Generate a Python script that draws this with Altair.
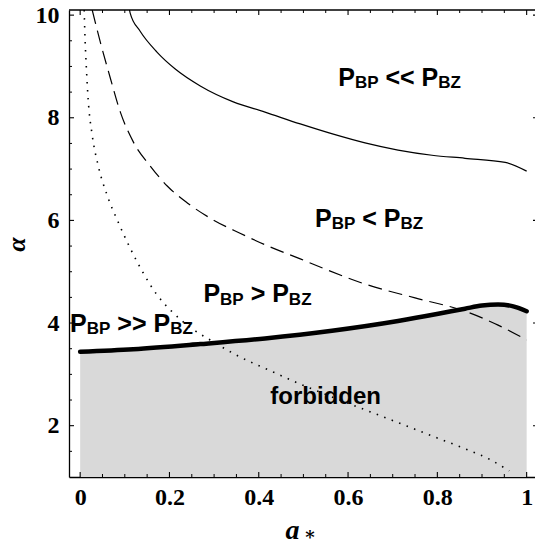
import altair as alt
import pandas as pd

# ---------------- data ----------------
solid_x = [0.1105, 0.112, 0.134, 0.172, 0.213, 0.269, 0.343, 0.414, 0.493, 0.567,
           0.638, 0.712, 0.788, 0.862, 0.952, 1.0]
solid_y = [10.10, 10.04, 9.69, 9.28, 8.95, 8.62, 8.31, 8.11, 7.88, 7.68,
           7.51, 7.37, 7.27, 7.21, 7.13, 6.96]

dashed_x = [0.027, 0.045, 0.067, 0.090, 0.119, 0.157, 0.195, 0.240, 0.298, 0.358,
            0.421, 0.493, 0.549, 0.638, 0.750, 0.862, 0.936, 1.0]
dashed_y = [10.10, 9.48, 8.79, 8.11, 7.53, 7.06, 6.67, 6.34, 6.01, 5.75,
            5.50, 5.25, 5.05, 4.76, 4.49, 4.23, 3.96, 3.67]

dotted_x = [0.009, 0.011, 0.013, 0.018, 0.027, 0.040, 0.060, 0.085, 0.112, 0.141,
            0.172, 0.206, 0.246, 0.291, 0.358, 0.426, 0.493, 0.564, 0.638, 0.712,
            0.788, 0.862, 0.918, 0.961]
dotted_y = [10.10, 9.52, 9.13, 8.35, 7.66, 7.08, 6.50, 5.97, 5.46, 4.98,
            4.55, 4.22, 3.92, 3.67, 3.34, 3.07, 2.81, 2.56, 2.31, 2.06,
            1.80, 1.55, 1.34, 1.12]

bound_x = [0.0, 0.119, 0.269, 0.414, 0.564, 0.712, 0.802, 0.862, 0.900, 0.936, 0.968, 1.0]
bound_y = [3.44, 3.49, 3.59, 3.70, 3.85, 4.04, 4.18, 4.28, 4.34, 4.36, 4.33, 4.23]

x_major = [0, 0.2, 0.4, 0.6, 0.8, 1.0]
x_minor = [0.05, 0.1, 0.15, 0.25, 0.3, 0.35, 0.45, 0.5, 0.55, 0.65, 0.7, 0.75,
           0.85, 0.9, 0.95]
y_major = [2, 4, 6, 8, 10]
y_minor = [1.5, 2.5, 3, 3.5, 4.5, 5, 5.5, 6.5, 7, 7.5, 8.5, 9, 9.5]

rel_ops = ["<<", "<", ">", ">>"]
rel_x = [0.578, 0.526, 0.276, -0.0226]
rel_y = [8.62, 5.88, 4.41, 3.83]

forbid_text = "forbidden"
forbid_x = 0.426
forbid_y = 2.43

x_title = "a"
x_title_sub = "∗"
y_title = "α"

# ---------------- layout ----------------
W, H = 466, 467
W_FULL = 469
XD = [-0.025, 1.0187]
YD = [1.0, 10.1]
xs = alt.Scale(domain=XD, nice=False, zero=False)
ys = alt.Scale(domain=YD, nice=False, zero=False)

TICK_FONT = "Liberation Serif"
X_AX = alt.Axis(values=x_major, format="~g", ticks=False, grid=False,
                domain=True, domainColor="black", domainWidth=1.3,
                labelFont=TICK_FONT, labelFontWeight=900,
                labelFontSize=24, labelColor="black", labelPadding=8,
                labelFlush=False, labelOverlap=False,
                titleFont=TICK_FONT, titleFontWeight="bold",
                titleFontStyle="italic", titleFontSize=28, titleColor="black",
                titleX=223, titleY=61, titleAlign="center",
                titleBaseline="alphabetic")
Y_AX = alt.Axis(values=y_major, format="d", ticks=False, grid=False,
                domain=True, domainColor="black", domainWidth=1.3,
                labelFont=TICK_FONT, labelFontWeight=900,
                labelFontSize=24, labelColor="black", labelPadding=10,
                labelOverlap=False, labelFlush=False,
                titleFont=TICK_FONT, titleFontWeight="bold",
                titleFontStyle="italic", titleFontSize=26, titleColor="black",
                titleX=-53, titleY=234, titleAngle=270, titleAlign="center",
                titleBaseline="middle")


def xenc(field):
    return alt.X(field, type="quantitative", scale=xs, axis=X_AX, title=x_title)


def yenc(field):
    return alt.Y(field, type="quantitative", scale=ys, axis=Y_AX, title=y_title)


bound_df = pd.DataFrame({"x": bound_x, "y": bound_y})

area = alt.Chart(bound_df).mark_area(color="#d9d9d9", interpolate="monotone").encode(
    x=xenc("x"), y=yenc("y"), y2=alt.datum(1.0))


def tick_layers(vals, length, sw):
    df = pd.DataFrame({"v": vals})
    base = alt.Chart(df).mark_rule(color="black", strokeWidth=sw)
    return [
        base.encode(x=xenc("v"), y=alt.value(H), y2=alt.value(H - length)),
        base.encode(x=xenc("v"), y=alt.value(0), y2=alt.value(length)),
    ]


def ytick_layers(vals, length, sw):
    df = pd.DataFrame({"v": vals})
    base = alt.Chart(df).mark_rule(color="black", strokeWidth=sw)
    return [
        base.encode(y=yenc("v"), x=alt.value(0), x2=alt.value(length)),
        base.encode(y=yenc("v"), x=alt.value(W_FULL - length), x2=alt.value(W_FULL)),
    ]


ticks = (tick_layers(x_major, 5, 1.1) + tick_layers(x_minor, 3, 1.0)
         + ytick_layers(y_major, 5, 1.1) + ytick_layers(y_minor, 3, 1.0))


def curve(xv, yv, **kw):
    df = pd.DataFrame({"x": xv, "y": yv})
    return alt.Chart(df).mark_line(color="black", interpolate="monotone", clip=True, **kw).encode(
        x=xenc("x"), y=yenc("y"))


solid = curve(solid_x, solid_y, strokeWidth=1.2)
dashed = curve(dashed_x, dashed_y, strokeWidth=1.2, strokeDash=[14, 7])
dotted = curve(dotted_x, dotted_y, strokeWidth=1.6, strokeDash=[1.5, 6.5])
thick = curve(bound_x, bound_y, strokeWidth=4.5, strokeCap="round")

# ---------------- region labels (P with subscripts) ----------------
W_LS = {"P": 0.667, "B": 0.722, "Z": 0.611, "<": 0.584, ">": 0.584, " ": 0.278}


def tw(s, size):
    return sum(W_LS[c] for c in s) * size


F, S, SUB_DY = 25, 17, 2.5
texts = []
for op, lx, ly in zip(rel_ops, rel_x, rel_y):
    df = pd.DataFrame({"x": [lx], "y": [ly]})
    pieces = [("P", F, 0, 0.0), ("BP", S, SUB_DY, 0.0),
              (op + " P", F, 0, tw(" ", F)), ("BZ", S, SUB_DY, 0.0)]
    dx = 0.0
    for t, fs, dy, gap in pieces:
        dx += gap
        texts.append(alt.Chart(df).mark_text(
            text=t, align="left", baseline="alphabetic", dx=dx, dy=dy,
            fontSize=fs, font="Liberation Sans", fontWeight="bold", color="black"
        ).encode(x=xenc("x"), y=yenc("y")))
        dx += tw(t, fs)

fdf = pd.DataFrame({"x": [forbid_x], "y": [forbid_y]})
texts.append(alt.Chart(fdf).mark_text(
    text=forbid_text, align="left", baseline="alphabetic", fontSize=24,
    font="Liberation Sans", fontWeight="bold", color="black"
).encode(x=xenc("x"), y=yenc("y")))

one = pd.DataFrame({"k": [0]})
star = alt.Chart(one).mark_text(
    text=x_title_sub, align="center", baseline="bottom", fontSize=18,
    font="DejaVu Serif", fontWeight="bold", color="black"
).encode(x=alt.value(241), y=alt.value(534))

top_frame = alt.Chart(one).mark_rule(color="black", strokeWidth=1.3).encode(
    x=alt.value(0), x2=alt.value(W_FULL), y=alt.value(0))

chart = alt.layer(area, *ticks, solid, dashed, dotted, thick, *texts, star, top_frame).properties(
    width=W, height=H,
    autosize=alt.AutoSizeParams(type="none"),
    padding={"left": 69, "top": 10, "right": 0, "bottom": 67},
    background="white",
).configure_view(stroke=None)

chart.save("out.html", embed_options={"renderer": "svg", "actions": False})
